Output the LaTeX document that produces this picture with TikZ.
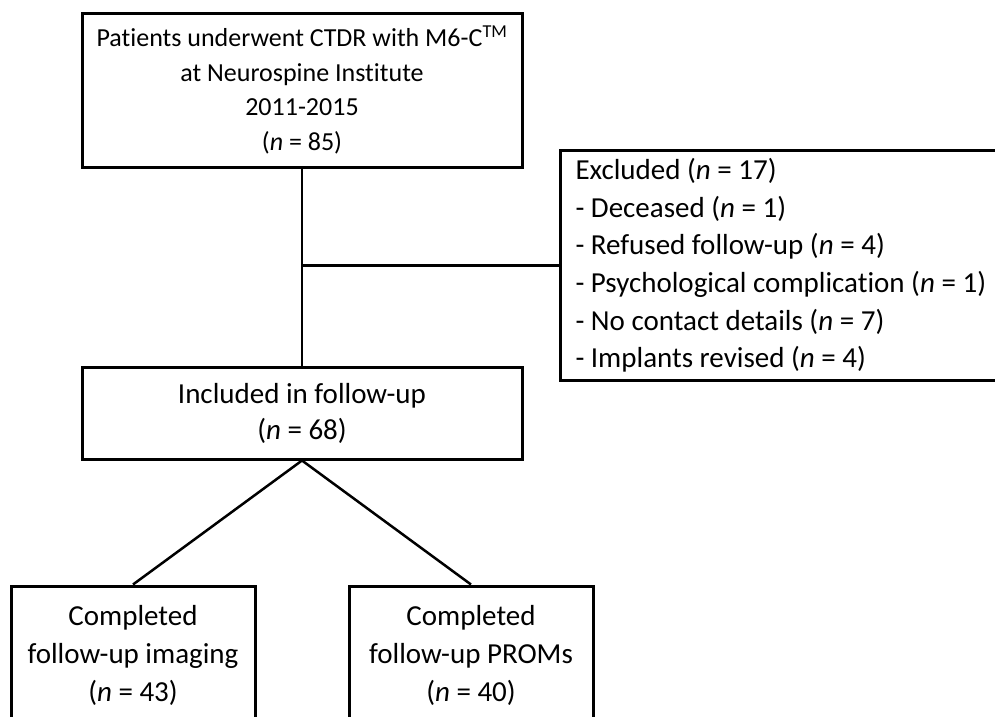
\documentclass[tikz,border=0pt]{standalone}
\usepackage{fontspec}
\setmainfont{Carlito}[Ligatures=NoCommon]
\usepackage{tikz}
\usetikzlibrary{positioning}

\begin{document}
\begin{tikzpicture}[x=1pt, y=-1pt,
    box/.style={draw, line width=3pt, align=center, inner sep=0pt,
        font=\fontsize{29}{36}\selectfont},
    link/.style={line width=2.5pt}]
    \useasboundingbox (0, 0) rectangle (995, 716);

    % Boxes of the flow chart
    \node[box, minimum width=440pt, minimum height=154pt,
        font=\fontsize{26}{34.5}\selectfont] (patients) at (302, 90)
        {Patients underwent CTDR with M6-C\textsuperscript{TM}\\at Neurospine Institute\\2011-2015\\(\textit{n} = 85)};

    \node[box, minimum width=440pt, minimum height=92pt] (included) at (302, 413)
        {Included in follow-up\\(\textit{n} = 68)};

    \node[box, align=flush left, text width=430pt, inner xsep=15pt, minimum height=230pt,
        anchor=north west, font=\fontsize{29}{37.6}\selectfont] (excluded) at (559, 149)
        {Excluded (\textit{n} = 17)\\
         - Deceased (\textit{n} = 1)\\
         - Refused follow-up (\textit{n} = 4)\\
         - Psychological complication (\textit{n} = 1)\\
         - No contact details (\textit{n} = 7)\\
         - Implants revised (\textit{n} = 4)};

    \node[box, minimum width=244pt, minimum height=138pt,
        font=\fontsize{29}{38}\selectfont] (imaging) at (133, 655)
        {Completed\\follow-up imaging\\(\textit{n} = 43)};
    \node[box, minimum width=244pt, minimum height=138pt,
        font=\fontsize{29}{38}\selectfont] (proms) at (471, 655)
        {Completed\\follow-up PROMs\\(\textit{n} = 40)};

    % Connectors
    \coordinate (branch) at (patients.south |- excluded.west);
    \draw[link] (patients.south) -- (included.north);
    \draw[link] (branch) -- (excluded.west);
    \draw[link] (included.south) -- (imaging.north);
    \draw[link] (included.south) -- (proms.north);
\end{tikzpicture}
\end{document}
